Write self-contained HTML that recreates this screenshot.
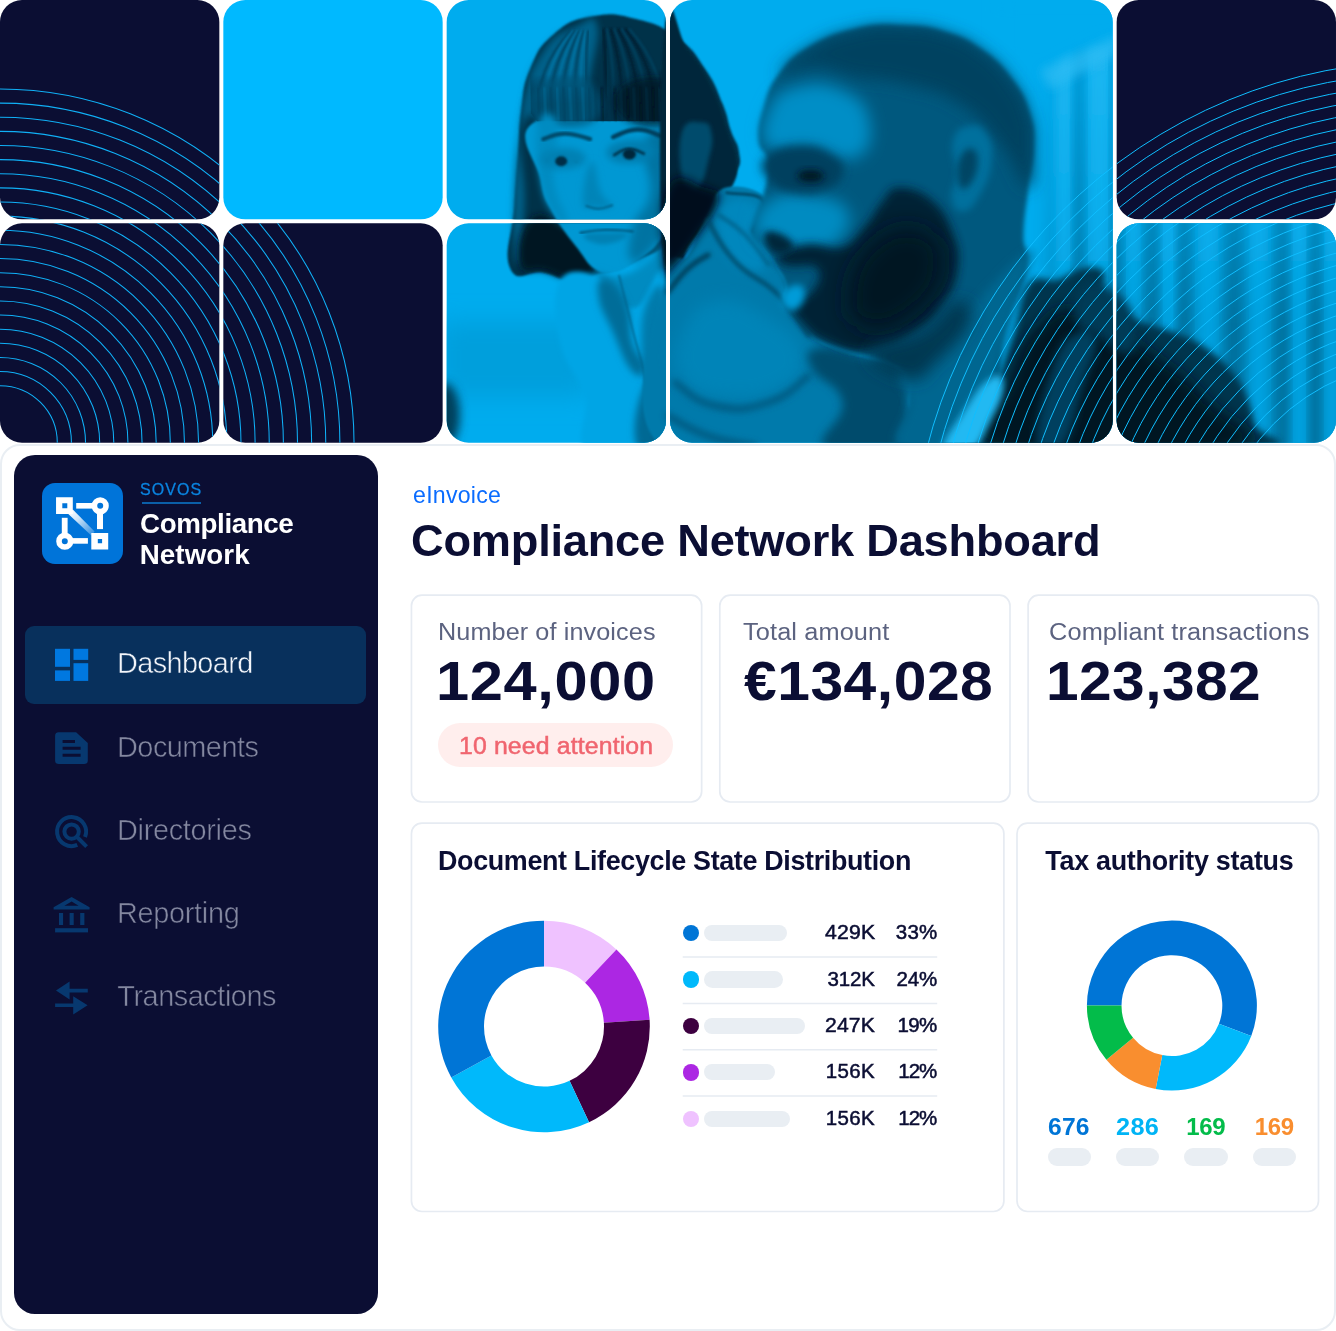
<!DOCTYPE html>
<html lang="en"><head><meta charset="utf-8"><title>Compliance Network Dashboard</title>
<style>
html,body{margin:0;padding:0;background:#fff}
body{width:1336px;height:1331px;position:relative;overflow:hidden;font-family:"Liberation Sans",sans-serif}
.abs{position:absolute}
.t{position:absolute;white-space:nowrap;line-height:1;margin:0}
#hero{position:absolute;left:0;top:0}
#dash{position:absolute;left:0;top:444px;width:1332px;height:883px;border:2px solid #e9eef3;border-radius:20px;background:#fff}
#side{position:absolute;left:14.2px;top:455.2px;width:363.7px;height:858.4px;border-radius:21px;background:#0b0e33}
.card{position:absolute;border:2px solid #e7ecf3;border-radius:11px;background:#fff;box-sizing:border-box}
.sk{position:absolute;background:#e9eef3;border-radius:10px}
.dot{position:absolute;width:16.6px;height:16.6px;border-radius:50%}
.sep{position:absolute;left:682.7px;width:254.5px;height:1.6px;background:#e7ecf3}
</style></head><body>

<svg id="hero" width="1336" height="444" viewBox="0 0 1336 444">
<defs>
<clipPath id="cpL"><rect x="0.00" y="0.00" width="219.33" height="219.33" rx="22" ry="22"/><rect x="0.00" y="223.33" width="219.33" height="219.33" rx="22" ry="22"/><rect x="223.33" y="223.33" width="219.33" height="219.33" rx="22" ry="22"/></clipPath>
<clipPath id="cpR"><rect x="670.00" y="0.00" width="442.67" height="442.67" rx="22" ry="22"/><rect x="1116.66" y="0.00" width="219.33" height="219.33" rx="22" ry="22"/><rect x="1116.66" y="223.33" width="219.33" height="219.33" rx="22" ry="22"/></clipPath>
<clipPath id="cpP"><rect x="446.67" y="0.00" width="219.33" height="219.33" rx="22" ry="22"/><rect x="446.67" y="223.33" width="219.33" height="219.33" rx="22" ry="22"/><rect x="670.00" y="0.00" width="442.67" height="442.67" rx="22" ry="22"/><rect x="1116.66" y="223.33" width="219.33" height="219.33" rx="22" ry="22"/></clipPath>
</defs>
<rect fill="#0b0e33" x="0.00" y="0.00" width="219.33" height="219.33" rx="22" ry="22"/>
<rect fill="#0b0e33" x="0.00" y="223.33" width="219.33" height="219.33" rx="22" ry="22"/>
<rect fill="#0b0e33" x="223.33" y="223.33" width="219.33" height="219.33" rx="22" ry="22"/>
<rect fill="#0b0e33" x="1116.66" y="0.00" width="219.33" height="219.33" rx="22" ry="22"/>
<rect fill="#00b9ff" x="223.33" y="0.00" width="219.33" height="219.33" rx="22" ry="22"/>
<g clip-path="url(#cpP)">
<defs>
<filter id="b1" x="-40%" y="-40%" width="180%" height="180%"><feGaussianBlur stdDeviation="1"/></filter>
<filter id="b2" x="-40%" y="-40%" width="180%" height="180%"><feGaussianBlur stdDeviation="2"/></filter>
<filter id="b3" x="-40%" y="-40%" width="180%" height="180%"><feGaussianBlur stdDeviation="3.5"/></filter>
<filter id="b5" x="-40%" y="-40%" width="180%" height="180%"><feGaussianBlur stdDeviation="5"/></filter>
<filter id="b8" x="-40%" y="-40%" width="180%" height="180%"><feGaussianBlur stdDeviation="8"/></filter>
<filter id="b12" x="-40%" y="-40%" width="180%" height="180%"><feGaussianBlur stdDeviation="12"/></filter>
<filter id="b20" x="-40%" y="-40%" width="180%" height="180%"><feGaussianBlur stdDeviation="20"/></filter>
</defs>
<rect x="440" y="0" width="900" height="444" fill="#00acee"/>
<rect x="440" y="322" width="150" height="75" fill="#009fdc" filter="url(#b12)"/>
<ellipse cx="445.0" cy="415.0" rx="15.0" ry="32.0" fill="#003f5c" filter="url(#b5)"/>
<defs>
<linearGradient id="cb" x1="0" y1="40" x2="0" y2="444" gradientUnits="userSpaceOnUse"><stop offset="0" stop-color="#00acee"/><stop offset="0.45" stop-color="#009bd8"/><stop offset="0.7" stop-color="#008bc1"/><stop offset="1" stop-color="#008bc1"/></linearGradient>
<linearGradient id="cl" x1="0" y1="40" x2="0" y2="444" gradientUnits="userSpaceOnUse"><stop offset="0" stop-color="#24b9f2"/><stop offset="0.45" stop-color="#0bb0ef"/><stop offset="0.7" stop-color="#00a4e3"/><stop offset="1" stop-color="#00a4e3"/></linearGradient>
<linearGradient id="cd" x1="0" y1="40" x2="0" y2="444" gradientUnits="userSpaceOnUse"><stop offset="0" stop-color="#009bd8"/><stop offset="0.45" stop-color="#0084b8"/><stop offset="0.7" stop-color="#006d99"/><stop offset="1" stop-color="#006d99"/></linearGradient>
</defs>
<rect x="1045" y="38" width="300" height="420" fill="url(#cb)" filter="url(#b8)"/>
<rect x="1056" y="48" width="16" height="420" fill="url(#cl)" filter="url(#b5)" opacity="0.9"/>
<rect x="1088" y="48" width="22" height="420" fill="url(#cl)" filter="url(#b5)" opacity="0.9"/>
<rect x="1126" y="48" width="14" height="420" fill="url(#cl)" filter="url(#b5)" opacity="0.9"/>
<rect x="1160" y="48" width="18" height="420" fill="url(#cl)" filter="url(#b5)" opacity="0.9"/>
<rect x="1198" y="48" width="20" height="420" fill="url(#cl)" filter="url(#b5)" opacity="0.9"/>
<rect x="1250" y="48" width="18" height="420" fill="url(#cl)" filter="url(#b5)" opacity="0.9"/>
<rect x="1291" y="48" width="16" height="420" fill="url(#cl)" filter="url(#b5)" opacity="0.9"/>
<rect x="1325" y="48" width="14" height="420" fill="url(#cl)" filter="url(#b5)" opacity="0.9"/>
<rect x="1074" y="48" width="10" height="420" fill="url(#cd)" filter="url(#b5)" opacity="0.9"/>
<rect x="1112" y="48" width="10" height="420" fill="url(#cd)" filter="url(#b5)" opacity="0.9"/>
<rect x="1146" y="48" width="12" height="420" fill="url(#cd)" filter="url(#b5)" opacity="0.9"/>
<rect x="1178" y="48" width="12" height="420" fill="url(#cd)" filter="url(#b5)" opacity="0.9"/>
<rect x="1226" y="48" width="16" height="420" fill="url(#cd)" filter="url(#b5)" opacity="0.9"/>
<rect x="1276" y="48" width="12" height="420" fill="url(#cd)" filter="url(#b5)" opacity="0.9"/>
<rect x="1310" y="48" width="10" height="420" fill="url(#cd)" filter="url(#b5)" opacity="0.9"/>
<path d="M1000.0 0.0 L1336.0 0.0 L1336.0 18.0 L1100.0 42.0 L1040.0 75.0 L1000.0 60.0Z" fill="#00acee" filter="url(#b8)"/>
<path d="M1040.0 70.0 L1110.0 38.0 L1336.0 14.0 L1336.0 30.0 L1110.0 58.0 L1050.0 90.0Z" fill="#2dbcf3" filter="url(#b5)" opacity="0.7"/>
<path d="M591.5 16.5 C570.9 20.4 569.0 21.3 553.6 34.4 C538.3 47.5 538.3 49.9 530.2 68.9 C522.1 87.8 524.4 88.7 521.3 110.2 C518.2 131.7 519.5 130.9 517.8 155.0 C516.1 179.1 516.3 178.2 514.4 206.6 C512.5 235.0 503.0 252.1 510.2 268.6 C517.5 285.1 528.2 269.7 543.3 272.7 C558.5 275.7 557.9 280.0 570.9 280.6 C583.8 281.3 579.5 280.2 595.0 275.5 C610.5 270.7 612.2 270.3 632.8 261.7 C653.5 253.1 660.4 251.4 677.6 241.0 C694.8 230.7 692.2 232.4 701.7 220.4 C711.2 208.3 706.9 204.9 715.5 192.8 C724.1 180.8 730.3 182.5 736.1 172.2 C742.0 161.8 740.2 161.8 738.9 151.5 C737.6 141.2 735.1 142.9 731.0 130.9 C726.8 118.8 728.8 118.8 722.4 103.3 C715.9 87.8 716.3 85.2 705.2 68.9 C694.0 52.5 694.8 50.4 677.6 37.9 C660.4 25.4 657.8 24.3 636.3 18.9 C614.8 13.6 612.2 12.7 591.5 16.5Z" fill="#003048" filter="url(#b1)"/>
<path d="M543.3 51.7 C557.1 30.6 564.4 32.7 577.7 25.8 C591.1 18.9 593.2 13.3 596.7 24.1 C600.1 34.9 596.2 45.2 591.5 68.9 C586.8 92.5 594.1 106.3 577.7 118.8 C561.4 131.3 539.4 96.8 526.1 118.8 C512.7 140.8 526.5 170.0 524.4 206.6 C522.2 243.2 520.1 265.2 517.5 265.2 C514.9 265.2 512.7 245.4 514.0 206.6 C515.3 167.9 515.3 148.9 522.6 110.2 C530.0 71.5 529.5 72.7 543.3 51.7Z" fill="#006189" filter="url(#b3)"/>
<path d="M570.6 31.0 Q534.7 68.9 538.1 118.8" fill="none" stroke="#003751" stroke-width="2.2" stroke-linecap="round" filter="url(#b1)" opacity="0.7"/>
<path d="M572.8 31.0 Q540.9 68.9 544.3 118.8" fill="none" stroke="#007daf" stroke-width="2.2" stroke-linecap="round" filter="url(#b1)" opacity="0.7"/>
<path d="M574.9 31.0 Q547.1 68.9 550.5 118.8" fill="none" stroke="#003751" stroke-width="2.2" stroke-linecap="round" filter="url(#b1)" opacity="0.7"/>
<path d="M577.1 31.0 Q553.3 68.9 556.7 118.8" fill="none" stroke="#007daf" stroke-width="2.2" stroke-linecap="round" filter="url(#b1)" opacity="0.7"/>
<path d="M579.3 31.0 Q559.5 68.9 562.9 118.8" fill="none" stroke="#003751" stroke-width="2.2" stroke-linecap="round" filter="url(#b1)" opacity="0.7"/>
<path d="M581.4 31.0 Q565.7 68.9 569.1 118.8" fill="none" stroke="#007daf" stroke-width="2.2" stroke-linecap="round" filter="url(#b1)" opacity="0.7"/>
<path d="M583.6 31.0 Q571.9 68.9 575.3 118.8" fill="none" stroke="#003751" stroke-width="2.2" stroke-linecap="round" filter="url(#b1)" opacity="0.7"/>
<path d="M585.8 31.0 Q578.1 68.9 581.5 118.8" fill="none" stroke="#007daf" stroke-width="2.2" stroke-linecap="round" filter="url(#b1)" opacity="0.7"/>
<path d="M588.0 31.0 Q584.3 68.9 587.7 118.8" fill="none" stroke="#003751" stroke-width="2.2" stroke-linecap="round" filter="url(#b1)" opacity="0.7"/>
<path d="M603.4 29.3 Q607.0 68.9 605.3 118.8" fill="none" stroke="#001220" stroke-width="2.5" stroke-linecap="round" filter="url(#b1)" opacity="0.6"/>
<path d="M607.1 29.3 Q615.3 68.9 613.6 118.8" fill="none" stroke="#004b6c" stroke-width="2.5" stroke-linecap="round" filter="url(#b1)" opacity="0.6"/>
<path d="M610.8 29.3 Q623.5 68.9 621.8 118.8" fill="none" stroke="#001220" stroke-width="2.5" stroke-linecap="round" filter="url(#b1)" opacity="0.6"/>
<path d="M614.6 29.3 Q631.8 68.9 630.1 118.8" fill="none" stroke="#004b6c" stroke-width="2.5" stroke-linecap="round" filter="url(#b1)" opacity="0.6"/>
<path d="M618.3 29.3 Q640.1 68.9 638.3 118.8" fill="none" stroke="#001220" stroke-width="2.5" stroke-linecap="round" filter="url(#b1)" opacity="0.6"/>
<path d="M622.0 29.3 Q648.3 68.9 646.6 118.8" fill="none" stroke="#004b6c" stroke-width="2.5" stroke-linecap="round" filter="url(#b1)" opacity="0.6"/>
<path d="M625.7 29.3 Q656.6 68.9 654.9 118.8" fill="none" stroke="#001220" stroke-width="2.5" stroke-linecap="round" filter="url(#b1)" opacity="0.6"/>
<path d="M629.4 29.3 Q664.9 68.9 663.1 118.8" fill="none" stroke="#004b6c" stroke-width="2.5" stroke-linecap="round" filter="url(#b1)" opacity="0.6"/>
<path d="M667.3 113.6 C669.0 83.5 672.4 88.7 681.0 86.1 C689.7 83.5 692.7 88.7 701.7 103.3 C710.7 117.9 714.6 122.2 717.2 144.6 C719.8 167.0 719.4 169.6 712.0 192.8 C704.7 216.1 699.1 223.8 687.9 237.6 C676.7 251.4 670.7 255.7 667.3 247.9 C663.8 240.2 674.2 240.2 674.2 206.6 C674.2 173.0 665.6 143.8 667.3 113.6Z" fill="#001220" filter="url(#b5)"/>
<path d="M527.8 223.8 C536.0 212.6 539.4 213.5 553.6 220.4 C567.8 227.3 574.7 238.3 584.6 251.4 C594.5 264.5 596.7 266.0 593.2 272.7 C589.8 279.4 583.3 278.8 570.9 278.2 C558.4 277.6 555.8 273.6 543.3 270.3 C530.8 267.0 524.8 276.8 520.9 265.2 C517.0 253.5 519.6 235.0 527.8 223.8Z" fill="#001220" filter="url(#b3)"/>
<path d="M537.5 120.5 C565.2 107.2 634.0 115.1 663.8 120.5 C693.7 125.9 668.3 125.3 670.0 144.6 C671.7 164.0 673.2 185.7 671.4 206.6 C669.6 227.5 670.4 225.1 662.1 237.6 C653.8 250.2 645.8 254.5 634.6 262.4 C623.3 270.3 621.1 271.2 612.2 272.7 C603.3 274.3 602.7 274.7 595.0 269.3 C587.2 263.9 587.0 261.0 577.7 248.6 C568.4 236.2 562.0 229.7 553.6 214.2 C545.3 198.7 544.2 200.8 540.6 179.8 C536.9 158.7 509.7 133.8 537.5 120.5Z" fill="#0098d3" filter="url(#b1)"/>
<path d="M530.2 68.9 L677.6 62.0 L681.0 121.2 L536.4 121.2 L530.2 113.6Z" fill="#00263b" filter="url(#b1)" opacity="0.0"/>
<defs><linearGradient id="bgr" x1="0" y1="74.0" x2="0" y2="103.3" gradientUnits="userSpaceOnUse"><stop offset="0" stop-color="#003048" stop-opacity="0"/><stop offset="1" stop-color="#003048" stop-opacity="1"/></linearGradient></defs>
<path d="M530.2 74.0 L677.6 74.0 L678.3 121.2 L537.1 121.2 L530.9 113.6Z" fill="url(#bgr)"/>
<path d="M533.7 90.2 C545.4 79.9 569.3 71.6 584.6 79.2 C600.0 86.8 606.7 110.2 595.0 120.5 C583.3 130.9 553.1 128.1 537.8 120.5 C522.5 112.9 522.0 100.6 533.7 90.2Z" fill="#00587e" filter="url(#b3)" opacity="0.7"/>
<path d="M622.5 86.1 C635.0 76.6 663.7 74.0 677.6 82.6 C691.5 91.3 690.8 111.1 678.3 120.5 C665.8 130.0 641.6 129.1 627.7 120.5 C613.7 111.9 610.0 95.6 622.5 86.1Z" fill="#001624" filter="url(#b3)" opacity="0.7"/>
<path d="M537.8 87.8 L539.5 120.2" fill="none" stroke="#003e5a" stroke-width="1.8" stroke-linecap="round" filter="url(#b1)" opacity="0.6"/>
<path d="M544.2 87.8 L545.9 120.2" fill="none" stroke="#0077a6" stroke-width="1.8" stroke-linecap="round" filter="url(#b1)" opacity="0.6"/>
<path d="M550.5 87.8 L552.3 120.2" fill="none" stroke="#003e5a" stroke-width="1.8" stroke-linecap="round" filter="url(#b1)" opacity="0.6"/>
<path d="M556.9 87.8 L558.6 120.2" fill="none" stroke="#0077a6" stroke-width="1.8" stroke-linecap="round" filter="url(#b1)" opacity="0.6"/>
<path d="M563.3 87.8 L565.0 120.2" fill="none" stroke="#003e5a" stroke-width="1.8" stroke-linecap="round" filter="url(#b1)" opacity="0.6"/>
<path d="M569.6 87.8 L571.4 120.2" fill="none" stroke="#0077a6" stroke-width="1.8" stroke-linecap="round" filter="url(#b1)" opacity="0.6"/>
<path d="M576.0 87.8 L577.7 120.2" fill="none" stroke="#003e5a" stroke-width="1.8" stroke-linecap="round" filter="url(#b1)" opacity="0.6"/>
<path d="M582.4 87.8 L584.1 120.2" fill="none" stroke="#0077a6" stroke-width="1.8" stroke-linecap="round" filter="url(#b1)" opacity="0.6"/>
<path d="M588.8 87.8 L590.5 120.2" fill="none" stroke="#003e5a" stroke-width="1.8" stroke-linecap="round" filter="url(#b1)" opacity="0.6"/>
<path d="M595.1 87.8 L596.9 120.2" fill="none" stroke="#003751" stroke-width="1.8" stroke-linecap="round" filter="url(#b1)" opacity="0.6"/>
<path d="M601.5 87.8 L603.2 120.2" fill="none" stroke="#000f1b" stroke-width="1.8" stroke-linecap="round" filter="url(#b1)" opacity="0.6"/>
<path d="M607.9 87.8 L609.6 120.2" fill="none" stroke="#003751" stroke-width="1.8" stroke-linecap="round" filter="url(#b1)" opacity="0.6"/>
<path d="M614.2 87.8 L616.0 120.2" fill="none" stroke="#000f1b" stroke-width="1.8" stroke-linecap="round" filter="url(#b1)" opacity="0.6"/>
<path d="M620.6 87.8 L622.3 120.2" fill="none" stroke="#003751" stroke-width="1.8" stroke-linecap="round" filter="url(#b1)" opacity="0.6"/>
<path d="M627.0 87.8 L628.7 120.2" fill="none" stroke="#000f1b" stroke-width="1.8" stroke-linecap="round" filter="url(#b1)" opacity="0.6"/>
<path d="M633.4 87.8 L635.1 120.2" fill="none" stroke="#003751" stroke-width="1.8" stroke-linecap="round" filter="url(#b1)" opacity="0.6"/>
<path d="M639.7 87.8 L641.4 120.2" fill="none" stroke="#000f1b" stroke-width="1.8" stroke-linecap="round" filter="url(#b1)" opacity="0.6"/>
<path d="M646.1 87.8 L647.8 120.2" fill="none" stroke="#003751" stroke-width="1.8" stroke-linecap="round" filter="url(#b1)" opacity="0.6"/>
<path d="M652.5 87.8 L654.2 120.2" fill="none" stroke="#000f1b" stroke-width="1.8" stroke-linecap="round" filter="url(#b1)" opacity="0.6"/>
<path d="M658.8 87.8 L660.6 120.2" fill="none" stroke="#003751" stroke-width="1.8" stroke-linecap="round" filter="url(#b1)" opacity="0.6"/>
<path d="M665.2 87.8 L666.9 120.2" fill="none" stroke="#000f1b" stroke-width="1.8" stroke-linecap="round" filter="url(#b1)" opacity="0.6"/>
<path d="M671.6 87.8 L673.3 120.2" fill="none" stroke="#003751" stroke-width="1.8" stroke-linecap="round" filter="url(#b1)" opacity="0.6"/>
<path d="M643.2 144.6 C647.9 130.9 661.9 122.2 669.0 137.7 C676.1 153.2 673.6 181.6 671.4 206.6 C669.3 231.6 670.0 223.8 660.4 237.6 C650.7 251.4 639.7 264.3 632.8 261.7 C626.0 259.1 628.5 244.5 632.8 227.3 C637.1 210.1 647.5 213.5 650.1 192.8 C652.6 172.2 638.4 158.4 643.2 144.6Z" fill="#0073a2" filter="url(#b5)"/>
<path d="M538.1 124.0 C542.3 110.0 553.2 110.2 557.1 124.0 C561.0 137.7 551.1 155.0 553.6 179.1 C556.2 203.2 567.4 211.8 567.4 220.4 C567.4 229.0 560.4 223.7 553.6 213.5 C546.9 203.3 544.4 202.1 540.6 179.8 C536.7 157.4 534.0 137.9 538.1 124.0Z" fill="#008bc1" filter="url(#b3)"/>
<path d="M543.3 139.1 C548.6 137.7 552.9 133.6 564.7 133.6 C576.4 133.6 583.8 137.7 590.1 139.1" fill="none" stroke="#004b6c" stroke-width="4.2" stroke-linecap="round" filter="url(#b1)"/>
<path d="M613.2 137.1 C619.1 135.2 625.2 129.8 637.0 129.5 C648.8 129.1 654.5 134.1 660.4 135.7" fill="none" stroke="#00415f" stroke-width="4.6" stroke-linecap="round" filter="url(#b1)"/>
<path d="M547.4 160.5 C550.7 159.1 553.3 154.8 560.5 155.0 C567.8 155.1 572.4 159.6 576.4 161.2" fill="none" stroke="#00415f" stroke-width="2.6" stroke-linecap="round" filter="url(#b1)"/>
<path d="M545.0 151.5 C552.8 147.2 568.7 146.7 577.7 150.1 C586.8 153.6 588.9 161.0 581.2 165.3 C573.4 169.6 555.8 170.8 546.7 167.4 C537.7 163.9 537.3 155.8 545.0 151.5Z" fill="#0081b4" filter="url(#b3)"/>
<path d="M612.2 144.6 C620.4 139.8 637.1 138.3 646.6 141.9 C656.1 145.5 658.2 154.3 650.1 159.1 C641.9 163.9 623.4 164.8 613.9 161.2 C604.4 157.5 604.0 149.4 612.2 144.6Z" fill="#007daf" filter="url(#b3)"/>
<path d="M614.2 155.0 C617.9 153.4 621.3 149.1 628.7 148.8 C636.1 148.4 640.1 152.4 643.9 153.6" fill="none" stroke="#003751" stroke-width="2.8" stroke-linecap="round" filter="url(#b1)"/>
<ellipse cx="561.2" cy="161.2" rx="6.0" ry="5.0" fill="#002f46" filter="url(#b1)"/>
<ellipse cx="629.4" cy="154.3" rx="6.5" ry="5.2" fill="#00263b" filter="url(#b1)"/>
<path d="M591.5 161.8 C596.1 159.7 596.0 181.8 601.2 192.8 C606.3 203.9 614.2 202.3 612.2 205.9 C610.2 209.5 600.6 208.4 593.2 207.3 C585.9 206.2 583.3 212.8 582.9 201.4 C582.5 190.1 587.0 164.0 591.5 161.8Z" fill="#0084b8" filter="url(#b3)"/>
<path d="M586.3 205.9 C589.4 206.6 591.9 208.8 598.4 208.7 C604.9 208.5 608.7 206.1 612.2 205.2" fill="none" stroke="#006189" stroke-width="2" stroke-linecap="round" filter="url(#b1)"/>
<path d="M580.5 232.8 C586.7 232.1 592.2 230.4 605.3 230.0 C618.4 229.7 626.0 231.1 632.8 231.4" fill="none" stroke="#00587e" stroke-width="2.4" stroke-linecap="round" filter="url(#b1)"/>
<path d="M584.6 234.8 C587.6 232.4 594.5 233.0 605.3 232.8 C616.1 232.6 626.0 231.6 627.7 234.2 C629.4 236.7 620.8 241.0 612.2 243.1 C603.6 245.2 600.1 244.5 593.2 242.4 C586.3 240.4 581.6 237.3 584.6 234.8Z" fill="#0081b4" filter="url(#b2)"/>
<path d="M595.0 272.0 C598.4 266.9 606.2 278.1 619.1 275.5 C632.0 272.9 634.6 270.3 646.6 261.7 C658.7 253.1 659.5 239.3 667.3 241.0 C675.0 242.8 679.3 254.8 677.6 268.6 C675.9 282.4 671.6 285.8 660.4 296.1 C649.2 306.5 646.6 309.9 632.8 309.9 C619.1 309.9 614.8 305.6 605.3 296.1 C595.8 286.7 591.5 277.2 595.0 272.0Z" fill="#008bc1" filter="url(#b3)"/>
<path d="M693.1 137.7 C695.7 120.5 700.0 125.7 705.2 124.0 C710.3 122.2 712.0 121.4 713.8 130.9 C715.5 140.3 714.6 146.3 712.0 161.8 C709.5 177.3 707.7 185.1 703.4 192.8 C699.1 200.6 697.4 206.6 694.8 192.8 C692.2 179.1 690.5 155.0 693.1 137.7Z" fill="#00587e" filter="url(#b2)"/>
<path d="M558.8 282.4 C565.7 268.6 580.2 270.0 595.0 275.5 C609.8 281.0 618.4 309.9 632.8 309.9 C647.3 309.9 659.8 247.2 667.3 275.5 C674.7 303.7 685.9 416.0 670.0 451.1 C654.2 486.2 605.2 462.1 588.1 451.1 C571.0 440.1 590.1 417.4 584.6 396.0 C579.1 374.7 565.7 367.1 560.5 344.4 C555.4 321.6 551.9 296.1 558.8 282.4Z" fill="#00a5e5" filter="url(#b2)"/>
<path d="M605.3 278.9 C612.2 280.6 619.1 286.7 626.0 303.0 C632.8 319.4 627.7 328.9 632.8 344.4 C638.0 359.8 646.6 358.1 646.6 365.0 C646.6 371.9 641.4 380.5 632.8 371.9 C624.2 363.3 620.8 349.5 612.2 330.6 C603.6 311.6 600.1 309.1 598.4 296.1 C596.7 283.2 598.4 277.2 605.3 278.9Z" fill="#006d99" filter="url(#b3)"/>
<path d="M646.6 303.0 C652.2 289.3 660.4 278.9 663.8 289.3 C667.3 299.6 664.7 322.0 660.4 344.4 C656.1 366.7 651.3 378.8 646.6 378.8 C641.9 378.8 641.4 363.3 641.4 344.4 C641.4 325.4 641.0 316.8 646.6 303.0Z" fill="#007aab" filter="url(#b3)"/>
<path d="M643.2 389.1 C650.1 372.8 659.5 365.0 663.8 378.8 C668.1 392.6 667.3 427.9 660.4 444.2 C653.5 460.6 640.6 458.0 636.3 444.2 C632.0 430.4 636.3 405.5 643.2 389.1Z" fill="#006994" filter="url(#b3)"/>
<path d="M619.1 275.5 C622.5 289.3 626.0 303.0 632.8 330.6 C639.7 358.1 641.4 356.4 646.6 385.7 C651.8 414.9 651.8 432.2 653.5 447.7" fill="none" stroke="#006189" stroke-width="1.5" stroke-linecap="round" filter="url(#b1)"/>
<path d="M664.6 28.5 C670.5 -26.0 676.4 35.6 688.1 50.3 C699.9 65.0 701.5 66.2 711.6 87.2 C721.7 108.1 722.1 115.7 728.4 134.1 C734.6 152.6 735.9 147.6 736.7 161.0 C737.6 174.4 738.0 174.4 731.7 187.8 C725.4 201.2 721.7 201.2 711.6 214.6 C701.5 228.0 703.2 228.0 691.5 241.4 C679.7 254.9 671.4 321.5 664.6 268.3 C657.9 215.0 658.8 83.0 664.6 28.5Z" fill="#00263b" filter="url(#b1)"/>
<path d="M681.4 134.1 C685.6 117.8 694.0 122.4 701.5 122.4 C709.1 122.4 709.9 124.5 711.6 134.1 C713.3 143.8 711.6 147.6 708.2 161.0 C704.9 174.4 704.0 181.1 698.2 187.8 C692.3 194.5 689.0 201.2 684.8 187.8 C680.6 174.4 677.2 150.5 681.4 134.1Z" fill="#004b6c" filter="url(#b2)"/>
<path d="M725.0 187.8 C737.1 183.8 759.1 189.1 765.3 197.9 C771.4 206.6 753.8 218.0 755.9 231.4 C757.9 244.8 769.3 254.2 775.3 264.9 C781.3 275.7 784.4 277.7 786.0 285.0 C787.7 292.4 780.5 294.4 783.7 301.8 C786.9 309.2 795.8 314.6 802.1 321.9 C808.5 329.3 807.5 332.7 815.6 338.7 C823.6 344.7 824.9 345.4 842.4 352.1 C859.8 358.8 889.7 362.2 902.7 372.2 C915.8 382.3 907.8 387.0 907.8 402.4 C907.8 417.8 951.4 440.0 902.7 449.4 C854.1 458.8 712.3 483.6 664.6 449.4 C617.0 415.2 660.0 317.2 664.6 278.3 C669.3 239.4 680.1 266.9 688.1 254.9 C696.2 242.8 697.5 231.4 704.9 218.0 C712.3 204.6 712.9 191.8 725.0 187.8Z" fill="#007aab" filter="url(#b1)"/>
<path d="M668.0 187.8 C678.1 167.7 692.3 184.4 704.9 187.8 C717.5 191.1 720.0 189.5 718.3 201.2 C716.6 212.9 709.1 218.8 698.2 234.7 C687.3 250.7 683.1 256.5 674.7 264.9 C666.3 273.3 666.3 287.6 664.6 268.3 C663.0 249.0 657.9 207.9 668.0 187.8Z" fill="#000f1b" filter="url(#b5)"/>
<path d="M681.4 335.3 C689.8 316.9 693.2 306.0 714.9 301.8 C736.7 297.6 746.8 305.2 768.6 318.6 C790.4 332.0 799.6 337.9 802.1 355.5 C804.7 373.1 799.6 378.9 778.7 389.0 C757.7 399.1 742.6 399.1 718.3 395.7 C694.0 392.4 690.6 390.7 681.4 375.6 C672.2 360.5 673.0 353.8 681.4 335.3Z" fill="#0084b8" filter="url(#b8)"/>
<path d="M728.4 201.2 C738.4 194.5 752.7 199.5 758.5 207.9 C764.4 216.3 749.3 221.3 751.8 234.7 C754.4 248.2 771.1 253.2 768.6 261.6 C766.1 270.0 754.4 275.0 741.8 268.3 C729.2 261.6 721.7 251.5 718.3 234.7 C714.9 218.0 718.3 207.9 728.4 201.2Z" fill="#0087bd" filter="url(#b5)"/>
<path d="M726.7 192.8 C735.9 194.9 756.9 191.6 763.6 201.2 C770.3 210.8 756.0 223.8 753.5 231.4" fill="none" stroke="#004b6c" stroke-width="3" stroke-linecap="round" filter="url(#b1)"/>
<path d="M718.3 214.6 C725.0 219.7 732.6 222.2 745.1 234.7 C757.7 247.3 762.7 257.4 768.6 264.9" fill="none" stroke="#00587e" stroke-width="3" stroke-linecap="round" filter="url(#b2)"/>
<path d="M708.2 221.3 C714.9 231.4 717.5 243.1 735.1 261.6 C752.7 280.0 760.2 276.7 778.7 295.1 C797.1 313.5 801.3 325.3 808.8 335.3" fill="none" stroke="#004868" stroke-width="4" stroke-linecap="round" filter="url(#b2)"/>
<path d="M668.0 291.8 C673.0 285.9 678.1 277.5 688.1 268.3 C698.2 259.1 703.2 258.2 708.2 254.9" fill="none" stroke="#003f5c" stroke-width="5" stroke-linecap="round" filter="url(#b2)"/>
<path d="M674.7 382.3 C684.8 388.2 691.5 400.7 714.9 405.8 C738.4 410.8 745.1 410.0 768.6 402.4 C792.1 394.9 798.8 382.3 808.8 375.6" fill="none" stroke="#005073" stroke-width="5" stroke-linecap="round" filter="url(#b3)"/>
<path d="M668.0 415.8 C678.1 420.9 686.4 428.4 708.2 435.9 C730.0 443.5 743.5 443.5 755.2 446.0" fill="none" stroke="#005073" stroke-width="5" stroke-linecap="round" filter="url(#b3)"/>
<path d="M815.6 348.8 C826.5 345.4 834.0 349.6 855.8 355.5 C877.6 361.3 889.7 360.5 902.7 372.2 C915.7 384.0 907.8 383.1 907.8 402.4 C907.8 421.7 923.3 437.6 902.7 449.4 C882.2 461.1 840.7 461.1 825.6 449.4 C810.5 437.6 845.7 422.5 842.4 402.4 C839.0 382.3 818.9 382.3 812.2 368.9 C805.5 355.5 804.7 352.1 815.6 348.8Z" fill="#004b6c" filter="url(#b5)"/>
<path d="M778.7 73.8 C788.9 60.2 791.5 57.1 808.8 46.9 C826.2 36.8 834.7 33.4 855.8 28.5 C876.9 23.6 882.4 24.4 902.7 25.2 C923.1 25.9 928.2 26.2 946.3 31.9 C964.4 37.5 968.1 39.4 983.2 50.3 C998.3 61.2 1002.8 66.1 1013.4 80.5 C1024.0 94.8 1025.5 98.9 1030.2 114.0 C1034.9 129.1 1034.6 131.0 1034.2 147.6 C1033.8 164.2 1030.9 168.2 1028.5 187.8 C1026.1 207.4 1024.0 216.6 1023.5 234.7 C1022.9 252.9 1030.7 245.6 1026.1 268.3 C1021.6 290.9 1012.2 294.6 1003.3 335.3 C994.4 376.1 1009.2 423.7 986.6 449.4 C963.9 475.0 920.1 459.9 902.7 449.4 C885.4 438.8 909.4 420.5 909.4 402.4 C909.4 384.3 914.8 380.2 902.7 368.9 C890.7 357.6 875.4 358.9 855.8 352.1 C836.2 345.3 829.1 346.2 815.6 338.7 C802.0 331.2 802.6 326.9 795.4 318.6 C788.3 310.3 786.0 309.4 783.7 301.8 C781.4 294.3 787.3 293.3 785.4 285.0 C783.5 276.7 779.8 272.8 775.3 264.9 C770.8 257.0 770.5 256.6 765.3 249.8 C760.0 243.0 754.5 241.2 751.8 234.7 C749.2 228.3 750.5 231.9 753.5 221.3 C756.5 210.8 761.9 201.4 765.3 187.8 C768.6 174.2 770.1 171.5 768.6 161.0 C767.1 150.4 759.7 152.9 758.5 140.8 C757.4 128.8 759.0 122.4 763.6 107.3 C768.1 92.2 768.5 87.4 778.7 73.8Z" fill="#00587e" filter="url(#b2)"/>
<path d="M780.3 75.5 C778.7 70.8 790.0 59.9 808.8 48.6 C827.7 37.3 832.3 35.6 855.8 30.2 C879.3 24.7 880.1 26.0 902.7 26.8 C925.4 27.7 926.2 27.2 946.3 33.5 C966.5 39.8 966.6 39.8 983.2 52.0 C999.8 64.1 1001.3 66.6 1012.7 82.2 C1024.1 97.7 1023.8 97.7 1028.8 114.0 C1033.9 130.4 1033.2 129.1 1032.9 147.6 C1032.5 166.0 1035.7 188.6 1027.5 187.8 C1019.3 187.0 1016.9 165.2 1000.0 144.2 C983.1 123.2 984.1 119.0 959.8 104.0 C935.4 88.9 928.7 90.5 902.7 83.8 C876.8 77.1 877.6 81.3 855.8 77.1 C834.0 72.9 834.4 67.5 815.6 67.1 C796.7 66.6 782.0 80.1 780.3 75.5Z" fill="#004361" filter="url(#b8)"/>
<path d="M768.6 110.7 C775.3 95.6 777.0 92.2 795.4 87.2 C813.9 82.2 823.9 82.2 842.4 90.5 C860.8 98.9 865.9 104.0 869.2 120.7 C872.6 137.5 870.9 150.9 855.8 157.6 C840.7 164.3 830.6 150.1 808.8 147.6 C787.0 145.0 778.7 156.8 768.6 147.6 C758.5 138.3 761.9 125.8 768.6 110.7Z" fill="#008ec6" filter="url(#b8)"/>
<path d="M768.6 201.2 C781.8 192.0 788.7 191.1 808.8 194.5 C829.0 197.9 845.7 200.4 849.1 214.6 C852.4 228.9 839.9 243.1 822.3 251.5 C804.7 259.9 795.3 253.2 778.7 248.2 C762.1 243.1 758.4 243.1 755.9 231.4 C753.3 219.7 755.4 210.4 768.6 201.2Z" fill="#008bc1" filter="url(#b8)"/>
<path d="M765.3 157.6 C773.2 148.8 784.5 145.9 802.1 145.9 C819.7 145.9 825.6 150.5 835.7 157.6 C845.7 164.7 844.9 166.4 842.4 174.4 C839.9 182.3 837.3 184.9 825.6 189.5 C813.9 194.1 809.3 194.9 795.4 192.8 C781.6 190.7 777.8 189.9 770.3 181.1 C762.7 172.3 757.3 166.4 765.3 157.6Z" fill="#00415f" filter="url(#b5)"/>
<ellipse cx="810.5" cy="176.1" rx="13.0" ry="6.0" fill="#001624" filter="url(#b3)"/>
<path d="M899.4 187.8 C910.7 187.8 920.9 190.6 932.9 201.2 C945.0 211.8 947.6 219.7 953.0 234.7 C958.5 249.8 959.2 253.2 957.1 268.3 C955.0 283.4 952.9 287.9 943.7 301.8 C934.4 315.8 932.9 319.4 916.2 330.3 C899.4 341.3 888.8 347.6 869.2 350.4 C849.6 353.2 844.1 349.0 829.0 342.7 C813.9 336.5 810.3 331.8 802.1 322.6 C794.0 313.4 790.5 308.8 792.7 301.8 C795.0 294.9 806.7 299.3 812.2 291.8 C817.7 284.2 823.1 274.2 817.2 268.3 C811.3 262.4 794.7 268.6 786.0 265.6 C777.4 262.6 773.5 259.7 778.7 254.9 C783.8 250.0 794.5 245.8 808.8 244.1 C823.2 242.5 829.9 251.1 842.4 247.5 C854.8 243.9 855.1 238.4 864.2 228.0 C873.2 217.6 874.7 210.3 882.6 201.2 C890.5 192.2 888.1 187.8 899.4 187.8Z" fill="#002134" filter="url(#b5)"/>
<path d="M875.9 241.4 C894.4 226.4 906.5 224.7 922.9 231.4 C939.2 238.1 943.8 248.2 941.3 268.3 C938.8 288.4 931.7 297.2 912.8 311.9 C893.9 326.5 881.8 332.0 865.9 327.0 C849.9 321.9 846.6 313.1 849.1 291.8 C851.6 270.4 857.5 256.5 875.9 241.4Z" fill="#001624" filter="url(#b12)"/>
<path d="M765.3 233.1 C768.6 229.1 778.7 232.2 785.4 236.4 C792.1 240.6 795.4 245.9 792.1 249.8 C788.7 253.8 778.7 256.4 772.0 252.2 C765.3 248.0 761.9 237.0 765.3 233.1Z" fill="#00263b" filter="url(#b3)"/>
<path d="M782.0 295.1 C784.3 288.8 794.0 283.8 799.5 285.0 C804.9 286.3 806.1 293.8 803.8 300.1 C801.6 306.4 795.9 311.5 790.4 310.2 C785.0 308.9 779.8 301.4 782.0 295.1Z" fill="#009bd8" filter="url(#b3)"/>
<path d="M902.7 368.9 C914.5 348.8 926.2 350.4 956.4 321.9 C986.6 293.4 1006.0 266.6 1023.5 254.9 C1040.9 243.1 1030.3 254.9 1026.1 275.0 C1022.0 295.1 1015.8 303.5 1006.7 335.3 C997.6 367.2 995.8 373.9 989.9 402.4 C984.1 430.9 1005.0 437.6 983.2 449.4 C961.4 461.1 921.2 461.1 902.7 449.4 C884.3 437.6 909.4 422.5 909.4 402.4 C909.4 382.3 891.0 389.0 902.7 368.9Z" fill="#006690" filter="url(#b5)"/>
<path d="M869.2 352.1 C872.6 340.4 901.1 344.6 922.9 332.0 C944.7 319.4 944.7 304.3 956.4 301.8 C968.1 299.3 974.8 306.8 969.8 321.9 C964.8 337.0 951.4 347.9 936.3 362.2 C921.2 376.4 926.2 381.5 909.4 378.9 C892.7 376.4 865.9 363.8 869.2 352.1Z" fill="#003751" filter="url(#b8)"/>
<path d="M953.0 140.8 C956.4 128.7 961.4 127.4 969.8 125.8 C978.2 124.1 981.1 125.3 986.6 134.1 C992.0 142.9 993.3 145.9 991.6 161.0 C989.9 176.1 987.0 181.9 979.9 194.5 C972.7 207.1 970.2 210.4 963.1 211.3 C956.0 212.1 953.0 207.1 951.4 197.9 C949.7 188.6 956.0 188.6 956.4 174.4 C956.8 160.1 949.7 153.0 953.0 140.8Z" fill="#00709d" filter="url(#b3)"/>
<path d="M960.4 157.6 C964.1 149.6 969.0 146.7 973.2 149.2 C977.4 151.7 978.9 158.0 977.2 167.7 C975.5 177.3 971.2 184.4 966.5 187.8 C961.8 191.1 959.9 188.6 958.4 181.1 C956.9 173.5 956.7 165.6 960.4 157.6Z" fill="#004463" filter="url(#b3)"/>
<path d="M1028.9 283.1 C1037.6 272.1 1045.9 282.8 1056.7 279.9 C1067.4 276.9 1073.3 270.0 1082.8 268.5 C1092.2 267.0 1100.5 265.3 1104.0 272.4 C1107.4 279.5 1097.4 295.9 1100.0 304.0 C1102.6 312.1 1108.0 309.2 1116.8 313.0 C1125.6 316.8 1130.6 318.4 1144.0 323.0 C1157.4 327.6 1170.0 329.8 1184.0 336.0 C1198.0 342.2 1203.6 345.8 1214.0 354.0 C1224.4 362.2 1229.2 367.6 1236.0 377.0 C1242.8 386.4 1244.4 391.4 1248.0 401.0 C1251.6 410.6 1252.4 415.2 1254.0 425.0 C1255.6 434.8 1310.2 444.8 1256.0 450.0 C1201.8 455.2 1035.4 461.9 983.2 451.0 C931.0 440.2 988.9 418.8 995.0 395.7 C1001.0 372.6 1006.6 357.9 1013.4 335.3 C1020.2 312.8 1020.3 294.2 1028.9 283.1Z" fill="#00344d" filter="url(#b3)"/>
<path d="M1085.0 312.0 C1112.5 318.8 1120.0 330.5 1150.0 352.0 C1180.0 373.5 1184.5 373.5 1205.0 398.0 C1225.5 422.5 1283.2 437.0 1232.0 450.0 C1180.8 463.0 1055.5 467.5 1000.0 450.0 C944.5 432.5 1000.0 411.2 1010.0 380.0 C1020.0 348.8 1021.2 342.0 1040.0 325.0 C1058.8 308.0 1057.5 305.2 1085.0 312.0Z" fill="#001220" filter="url(#b8)"/>
<path d="M1082.8 288.0 C1090.9 279.9 1095.8 279.9 1108.9 288.0 C1121.9 296.2 1130.1 304.4 1135.0 320.7 C1139.9 337.0 1138.3 350.1 1128.5 353.3 C1118.7 356.6 1108.9 341.9 1095.8 333.7 C1082.8 325.6 1079.5 332.1 1076.2 320.7 C1073.0 309.3 1074.6 296.2 1082.8 288.0Z" fill="#003a56" filter="url(#b5)"/>
<path d="M1053.4 366.4 C1063.2 338.6 1065.6 340.3 1076.2 333.7 C1086.8 327.2 1094.2 327.2 1095.8 340.3 C1097.5 353.3 1090.9 359.8 1082.8 386.0 C1074.6 412.1 1074.6 430.0 1063.2 444.7 C1051.8 459.4 1039.5 464.3 1037.1 444.7 C1034.6 425.1 1043.6 394.1 1053.4 366.4Z" fill="#00415f" filter="url(#b5)"/>
<path d="M989.9 378.9 C1000.0 372.2 1003.3 374.7 1003.3 385.6 C1003.3 396.5 998.3 406.2 989.9 422.5 C981.5 438.9 981.5 443.9 969.8 451.0 C958.1 458.2 944.7 460.7 943.0 451.0 C941.3 441.4 951.4 430.5 963.1 412.5 C974.8 394.5 979.9 385.6 989.9 378.9Z" fill="#24b9f2" filter="url(#b3)"/>
</g>
<g clip-path="url(#cpL)" fill="none" stroke="#10b0f6" stroke-width="1.05">
<circle cx="0" cy="443" r="57.30"/>
<circle cx="0" cy="443" r="71.43"/>
<circle cx="0" cy="443" r="85.56"/>
<circle cx="0" cy="443" r="99.69"/>
<circle cx="0" cy="443" r="113.82"/>
<circle cx="0" cy="443" r="127.95"/>
<circle cx="0" cy="443" r="142.08"/>
<circle cx="0" cy="443" r="156.21"/>
<circle cx="0" cy="443" r="170.34"/>
<circle cx="0" cy="443" r="184.47"/>
<circle cx="0" cy="443" r="198.60"/>
<circle cx="0" cy="443" r="212.73"/>
<circle cx="0" cy="443" r="226.86"/>
<circle cx="0" cy="443" r="240.99"/>
<circle cx="0" cy="443" r="255.12"/>
<circle cx="0" cy="443" r="269.25"/>
<circle cx="0" cy="443" r="283.38"/>
<circle cx="0" cy="443" r="297.51"/>
<circle cx="0" cy="443" r="311.64"/>
<circle cx="0" cy="443" r="325.77"/>
<circle cx="0" cy="443" r="339.90"/>
<circle cx="0" cy="443" r="354.03"/>
</g>
<g clip-path="url(#cpR)" fill="none" stroke="#10beff" stroke-width="1">
<circle cx="1425.5" cy="575.5" r="514.60"/>
<circle cx="1425.5" cy="575.5" r="502.60"/>
<circle cx="1425.5" cy="575.5" r="490.60"/>
<circle cx="1425.5" cy="575.5" r="478.60"/>
<circle cx="1425.5" cy="575.5" r="466.60"/>
<circle cx="1425.5" cy="575.5" r="454.60"/>
<circle cx="1425.5" cy="575.5" r="442.60"/>
<circle cx="1425.5" cy="575.5" r="430.60"/>
<circle cx="1425.5" cy="575.5" r="418.60"/>
<circle cx="1425.5" cy="575.5" r="406.60"/>
<circle cx="1425.5" cy="575.5" r="394.60"/>
<circle cx="1425.5" cy="575.5" r="382.60"/>
<circle cx="1425.5" cy="575.5" r="370.60"/>
<circle cx="1425.5" cy="575.5" r="358.60"/>
<circle cx="1425.5" cy="575.5" r="346.60"/>
<circle cx="1425.5" cy="575.5" r="334.60"/>
<circle cx="1425.5" cy="575.5" r="322.60"/>
<circle cx="1425.5" cy="575.5" r="310.60"/>
<circle cx="1425.5" cy="575.5" r="298.60"/>
<circle cx="1425.5" cy="575.5" r="286.60"/>
<circle cx="1425.5" cy="575.5" r="274.60"/>
<circle cx="1425.5" cy="575.5" r="262.60"/>
<circle cx="1425.5" cy="575.5" r="250.60"/>
<circle cx="1425.5" cy="575.5" r="238.60"/>
<circle cx="1425.5" cy="575.5" r="226.60"/>
<circle cx="1425.5" cy="575.5" r="214.60"/>
</g>
</svg>
<div id="dash"></div>
<div id="side"></div>
<div class="abs" style="left:41.9px;top:483px;width:81.3px;height:81px;border-radius:13px;background:#0074d9"></div>
<svg class="abs" style="left:41px;top:483px" width="84" height="82" viewBox="41 483 84 82">
<defs><linearGradient id="dg" x1="70" y1="511" x2="93" y2="534" gradientUnits="userSpaceOnUse"><stop offset="0" stop-color="#fff" stop-opacity="1"/><stop offset="0.35" stop-color="#fff" stop-opacity="0.8"/><stop offset="1" stop-color="#fff" stop-opacity="0.22"/></linearGradient></defs>
<path d="M72.8 509.6 L94.6 531.6 L91.3 535.6 L68.3 514.1 Z" fill="url(#dg)"/>
<g fill="#fff">
<path fill-rule="evenodd" d="M56.05 497.3 H72.8 V514.1 H56.05 Z M62.3 503.3 H67.3 V508.3 H62.3 Z"/>
<path fill-rule="evenodd" d="M91.3 532.9 H108.2 V549.5 H91.3 Z M97.8 539 H102.1 V543.3 H97.8 Z"/>
<rect x="76.2" y="503" width="16.5" height="5.6"/>
<rect x="72.2" y="538.1" width="15.7" height="5.6"/>
<rect x="61.8" y="517.8" width="5.8" height="16"/>
<rect x="97" y="513" width="6" height="16.1"/>
</g>
<circle cx="100.2" cy="505.8" r="5.8" fill="none" stroke="#fff" stroke-width="5.6"/>
<circle cx="64.8" cy="541.2" r="5.8" fill="none" stroke="#fff" stroke-width="5.6"/>
</svg>
<div class="abs" style="left:141.7px;top:501.9px;width:59.1px;height:1.7px;background:#0b5fa8"></div>
<div class="abs" style="left:25.1px;top:626px;width:341.2px;height:78.2px;border-radius:9px;background:#08305c"></div>
<svg class="abs" style="left:50px;top:640px" width="45" height="380" viewBox="50 640 45 380">
<g fill="#0078e0"><rect x="55" y="648.8" width="15" height="18"/><rect x="73.5" y="648.8" width="14.7" height="11.1"/><rect x="55" y="670.4" width="15" height="10.5"/><rect x="73.5" y="663.2" width="14.7" height="17.7"/></g>
<path fill="#07386f" fill-rule="evenodd" d="M58.6 732.2 H76.1 L87.8 743 V760.5 a3.5 3.5 0 0 1 -3.5 3.5 H58.6 a3.5 3.5 0 0 1 -3.5 -3.5 V735.7 a3.5 3.5 0 0 1 3.5 -3.5 Z M62.6 740 H75 V742.9 H62.6 Z M62.6 746.8 H80.6 V749.8 H62.6 Z M62.6 753.8 H80.6 V756.7 H62.6 Z"/>
<g fill="none" stroke="#07386f" stroke-width="4">
<path d="M85.04 837.03 A14.5 14.5 0 1 0 77.27 844.95"/>
<circle cx="71.6" cy="831.6" r="7.2"/>
<path d="M76.5 836.5 L86.6 846.6" stroke-linecap="butt"/>
</g>
<path fill="#07386f" fill-rule="evenodd" d="M71.6 897 L89.6 907.2 V909.6 H53.6 V907.2 Z M71.6 901.6 L78.6 905.8 H64.4 Z"/>
<g fill="#07386f"><rect x="59" y="913" width="4.1" height="12"/><rect x="69.6" y="913" width="4.1" height="12"/><rect x="80.2" y="913" width="4.2" height="12"/><rect x="55.1" y="928.2" width="32.9" height="4.2"/>
<path d="M56 990.5 L69.6 981.5 V988.7 H87.8 V992.6 H69.6 V999.6 Z"/>
<path d="M87.6 1005.2 L73.2 996.2 V1003.4 H55.1 V1007 H73.2 V1014.4 Z"/></g>
</svg>
<svg class="abs" style="left:400px;top:585px" width="936" height="640" viewBox="400 585 936 640"><g fill="#fff" stroke="#e6ebf2" stroke-width="1.7">
<rect x="411.45" y="595.2" width="290.20" height="206.80" rx="10.5"/>
<rect x="719.8" y="595.2" width="290.20" height="206.80" rx="10.5"/>
<rect x="1028.1" y="595.2" width="290.40" height="206.80" rx="10.5"/>
<rect x="411.45" y="823.15" width="592.45" height="388.35" rx="10.5"/>
<rect x="1017.0" y="823.15" width="301.50" height="388.35" rx="10.5"/>
</g></svg>
<div class="abs" style="left:438.3px;top:723.4px;width:234.7px;height:44.1px;border-radius:22px;background:#ffeeed"></div>
<svg class="abs" style="left:436px;top:918px" width="217" height="217" viewBox="436 918 217 217">
<path fill="#efc2ff" d="M544.00 920.70 A105.8 105.8 0 0 1 616.43 949.38 L585.07 982.76 A60 60 0 0 0 544.00 966.50 Z"/>
<path fill="#ac27e3" d="M616.43 949.38 A105.8 105.8 0 0 1 649.59 1019.86 L603.88 1022.73 A60 60 0 0 0 585.07 982.76 Z"/>
<path fill="#3d0040" d="M649.59 1019.86 A105.8 105.8 0 0 1 589.05 1122.23 L569.55 1080.79 A60 60 0 0 0 603.88 1022.73 Z"/>
<path fill="#00b9fb" d="M589.05 1122.23 A105.8 105.8 0 0 1 451.29 1077.47 L491.42 1055.41 A60 60 0 0 0 569.55 1080.79 Z"/>
<path fill="#0075d6" d="M451.29 1077.47 A105.8 105.8 0 0 1 544.00 920.70 L544.00 966.50 A60 60 0 0 0 491.42 1055.41 Z"/>
</svg>
<svg class="abs" style="left:1084px;top:918px" width="176" height="176" viewBox="1084 918 176 176">
<path fill="#0075d6" d="M1086.90 1005.60 A85 85 0 1 1 1251.25 1036.06 L1218.95 1023.66 A50.4 50.4 0 1 0 1121.50 1005.60 Z"/>
<path fill="#00b9fb" d="M1251.25 1036.06 A85 85 0 0 1 1155.68 1089.04 L1162.28 1055.07 A50.4 50.4 0 0 0 1218.95 1023.66 Z"/>
<path fill="#f98e2f" d="M1155.68 1089.04 A85 85 0 0 1 1106.41 1059.78 L1133.07 1037.73 A50.4 50.4 0 0 0 1162.28 1055.07 Z"/>
<path fill="#03bc4a" d="M1106.41 1059.78 A85 85 0 0 1 1086.90 1005.60 L1121.50 1005.60 A50.4 50.4 0 0 0 1133.07 1037.73 Z"/>
</svg>
<div class="dot" style="left:682.7px;top:924.8px;background:#0075d6"></div>
<div class="sk" style="left:703.6px;top:924.9px;width:83.4px;height:16.4px"></div>
<div class="dot" style="left:682.7px;top:971.1px;background:#00b9fb"></div>
<div class="sk" style="left:703.6px;top:971.2px;width:79.4px;height:16.4px"></div>
<div class="dot" style="left:682.7px;top:1017.7px;background:#3d0040"></div>
<div class="sk" style="left:703.6px;top:1017.8px;width:101.4px;height:16.4px"></div>
<div class="dot" style="left:682.7px;top:1064.0px;background:#ac27e3"></div>
<div class="sk" style="left:703.6px;top:1064.1px;width:71.4px;height:16.4px"></div>
<div class="dot" style="left:682.7px;top:1110.6px;background:#efc2ff"></div>
<div class="sk" style="left:703.6px;top:1110.7px;width:86.4px;height:16.4px"></div>
<svg class="abs" style="left:680px;top:950px" width="260" height="150" viewBox="680 950 260 150"><g stroke="#e6ebf2" stroke-width="1.5">
<line x1="682.7" y1="957.1" x2="937.2" y2="957.1"/>
<line x1="682.7" y1="1003.4" x2="937.2" y2="1003.4"/>
<line x1="682.7" y1="1049.7" x2="937.2" y2="1049.7"/>
<line x1="682.7" y1="1096.0" x2="937.2" y2="1096.0"/>
</g></svg>
<div class="sk" style="left:1047.5px;top:1147.8px;width:43.3px;height:18.2px"></div>
<div class="sk" style="left:1116px;top:1147.8px;width:43.3px;height:18.2px"></div>
<div class="sk" style="left:1184.4px;top:1147.8px;width:43.3px;height:18.2px"></div>
<div class="sk" style="left:1253px;top:1147.8px;width:43.3px;height:18.2px"></div>
<div class="t" style="left:413.1px;top:484.2px;font-size:23.11px;font-weight:normal;letter-spacing:0.229px;color:#0a6cff;">eInvoice</div>
<h1 class="t" style="left:411.0px;top:518.3px;font-size:45.2px;font-weight:bold;letter-spacing:-0.222px;color:#0b0e33;">Compliance Network Dashboard</h1>
<div class="t" style="left:438.0px;top:620.1px;font-size:24.56px;font-weight:normal;letter-spacing:0.105px;color:#5c6380;transform:scaleX(1.0264);transform-origin:0 0;">Number of invoices</div>
<div class="t" style="left:743.3px;top:620.1px;font-size:24.56px;font-weight:normal;letter-spacing:0.126px;color:#5c6380;transform:scaleX(1.0308);transform-origin:0 0;">Total amount</div>
<div class="t" style="left:1049.0px;top:620.1px;font-size:24.56px;font-weight:normal;letter-spacing:0.122px;color:#5c6380;transform:scaleX(1.0321);transform-origin:0 0;">Compliant transactions</div>
<div class="t" style="left:436.2px;top:653.0px;font-size:56.25px;font-weight:bold;letter-spacing:0.602px;color:#0b0e33;transform:scaleX(1.0582);transform-origin:0 0;">124,000</div>
<div class="t" style="left:744.3px;top:653.0px;font-size:56.25px;font-weight:bold;letter-spacing:0.482px;color:#0b0e33;transform:scaleX(1.0454);transform-origin:0 0;">€134,028</div>
<div class="t" style="left:1045.8px;top:653.0px;font-size:56.25px;font-weight:bold;letter-spacing:0.440px;color:#0b0e33;transform:scaleX(1.0419);transform-origin:0 0;">123,382</div>
<div class="t" style="left:458.7px;top:733.5px;font-size:23.98px;font-weight:normal;letter-spacing:0.131px;color:#f0656f;-webkit-text-stroke:0.5px #f0656f;transform:scaleX(1.0359);transform-origin:0 0;">10 need attention</div>
<div class="t" style="left:438.0px;top:847.9px;font-size:26.89px;font-weight:bold;letter-spacing:-0.333px;color:#0b0e33;">Document Lifecycle State Distribution</div>
<div class="t" style="left:1045.3px;top:847.9px;font-size:26.89px;font-weight:bold;letter-spacing:-0.263px;color:#0b0e33;">Tax authority status</div>
<div class="t" style="left:140.4px;top:481.1px;font-size:17.01px;font-weight:normal;letter-spacing:1.110px;color:#0a84e0;-webkit-text-stroke:0.3px #0a84e0;transform:scaleX(0.9410);transform-origin:0 0;">SOVOS</div>
<div class="t" style="left:140.1px;top:509.9px;font-size:27.76px;font-weight:bold;letter-spacing:-0.400px;color:#ffffff;">Compliance</div>
<div class="t" style="left:139.7px;top:540.9px;font-size:27.76px;font-weight:bold;letter-spacing:0.083px;color:#ffffff;">Network</div>
<div class="t" style="left:117.0px;top:649.2px;font-size:28.92px;font-weight:normal;letter-spacing:-0.650px;color:#f2f5fa;-webkit-text-stroke:0.55px #08305c;">Dashboard</div>
<div class="t" style="left:117.0px;top:732.5px;font-size:28.92px;font-weight:normal;letter-spacing:-0.538px;color:#8488a0;-webkit-text-stroke:0.55px #0b0e33;">Documents</div>
<div class="t" style="left:117.0px;top:815.7px;font-size:28.92px;font-weight:normal;letter-spacing:-0.330px;color:#8488a0;-webkit-text-stroke:0.55px #0b0e33;">Directories</div>
<div class="t" style="left:117.0px;top:899.0px;font-size:28.92px;font-weight:normal;letter-spacing:-0.325px;color:#8488a0;-webkit-text-stroke:0.55px #0b0e33;">Reporting</div>
<div class="t" style="left:117.3px;top:982.3px;font-size:28.92px;font-weight:normal;letter-spacing:-0.473px;color:#8488a0;-webkit-text-stroke:0.55px #0b0e33;">Transactions</div>
<div class="t" style="left:824.6px;top:922.3px;font-size:20.49px;font-weight:normal;letter-spacing:0.189px;color:#0b0e33;-webkit-text-stroke:0.5px #0b0e33;transform:scaleX(1.0375);transform-origin:0 0;">429K</div>
<div class="t" style="left:827.5px;top:968.6px;font-size:20.49px;font-weight:normal;letter-spacing:-0.183px;color:#0b0e33;-webkit-text-stroke:0.5px #0b0e33;">312K</div>
<div class="t" style="left:825.0px;top:1014.9px;font-size:20.49px;font-weight:normal;letter-spacing:0.157px;color:#0b0e33;-webkit-text-stroke:0.5px #0b0e33;transform:scaleX(1.0318);transform-origin:0 0;">247K</div>
<div class="t" style="left:825.8px;top:1061.2px;font-size:20.49px;font-weight:normal;letter-spacing:0.383px;color:#0b0e33;-webkit-text-stroke:0.5px #0b0e33;">156K</div>
<div class="t" style="left:825.8px;top:1107.6px;font-size:20.49px;font-weight:normal;letter-spacing:0.383px;color:#0b0e33;-webkit-text-stroke:0.5px #0b0e33;">156K</div>
<div class="t" style="left:895.8px;top:922.3px;font-size:20.49px;font-weight:normal;letter-spacing:0.200px;color:#0b0e33;-webkit-text-stroke:0.5px #0b0e33;">33%</div>
<div class="t" style="left:896.6px;top:968.6px;font-size:20.49px;font-weight:normal;letter-spacing:-0.200px;color:#0b0e33;-webkit-text-stroke:0.5px #0b0e33;">24%</div>
<div class="t" style="left:897.6px;top:1014.9px;font-size:20.49px;font-weight:normal;letter-spacing:-0.700px;color:#0b0e33;-webkit-text-stroke:0.5px #0b0e33;">19%</div>
<div class="t" style="left:898.3px;top:1061.2px;font-size:20.49px;font-weight:normal;letter-spacing:-1.050px;color:#0b0e33;-webkit-text-stroke:0.5px #0b0e33;">12%</div>
<div class="t" style="left:898.3px;top:1107.6px;font-size:20.49px;font-weight:normal;letter-spacing:-1.050px;color:#0b0e33;-webkit-text-stroke:0.5px #0b0e33;">12%</div>
<div class="t" style="left:1048.2px;top:1114.5px;font-size:23.98px;font-weight:bold;letter-spacing:0.176px;color:#0075d6;transform:scaleX(1.0286);transform-origin:0 0;">676</div>
<div class="t" style="left:1116.3px;top:1114.5px;font-size:23.98px;font-weight:bold;letter-spacing:0.332px;color:#00b4f5;transform:scaleX(1.0553);transform-origin:0 0;">286</div>
<div class="t" style="left:1186.3px;top:1114.5px;font-size:23.98px;font-weight:bold;letter-spacing:-0.350px;color:#03bc4a;">169</div>
<div class="t" style="left:1254.7px;top:1114.5px;font-size:23.98px;font-weight:bold;letter-spacing:-0.350px;color:#f98e2f;">169</div>
</body></html>
